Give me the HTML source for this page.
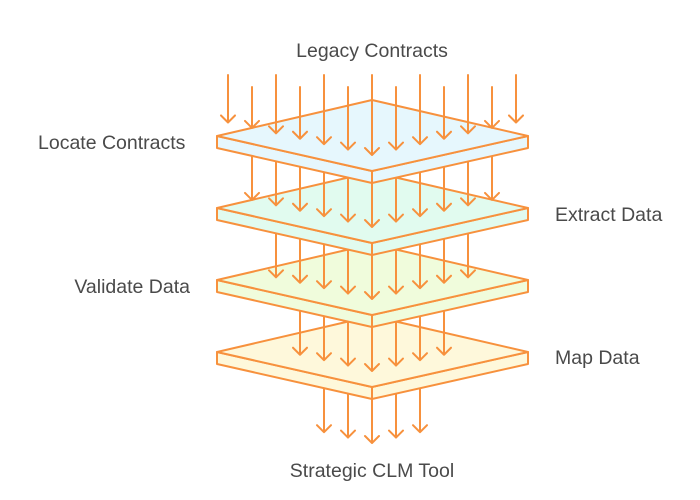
<!DOCTYPE html>
<html><head><meta charset="utf-8"><style>
html,body{margin:0;padding:0;background:#fff;width:700px;height:500px;overflow:hidden}
svg{display:block}
text{font-family:"Liberation Sans",sans-serif;font-size:19.5px;fill:#4a4a4a}
</style></head><body>
<svg id="s" width="700" height="500" viewBox="0 0 700 500" xmlns="http://www.w3.org/2000/svg">
<g id="g" fill="none" stroke="#f7913d" stroke-width="2" stroke-linecap="round" stroke-linejoin="round"></g>
<text x="372" y="57" text-anchor="middle">Legacy Contracts</text>
<text x="38" y="149">Locate Contracts</text>
<text x="555" y="221">Extract Data</text>
<text x="190" y="293" text-anchor="end">Validate Data</text>
<text x="555" y="364">Map Data</text>
<text x="372" y="477" text-anchor="middle">Strategic CLM Tool</text>
</svg>
<script>
var g=document.getElementById('g'),ns='http://www.w3.org/2000/svg';
var fills=['#e6f7fd','#e1fbef','#f0fcdc','#fef8db'];
var Y=[136,208,280,352,424];
function surf(x,y0){return y0+35*(1-Math.abs(x-372)/155);}
function el(t,a){var e=document.createElementNS(ns,t);for(var k in a)e.setAttribute(k,a[k]);g.appendChild(e);return e;}
function plate(i){var y=Y[i],f=fills[i];
 el('path',{d:'M217 '+y+' L372 '+(y+35)+' L372 '+(y+47)+' L217 '+(y+12)+'Z',fill:f});
 el('path',{d:'M528 '+y+' L372 '+(y+35)+' L372 '+(y+47)+' L528 '+(y+12)+'Z',fill:f});
 el('path',{d:'M217 '+y+' L372 '+(y-36)+' L528 '+y+' L372 '+(y+35)+'Z',fill:f});
}
function arrows(level){
 var n=13-2*level;var x0=372-12*(n-1);
 for(var j=0;j<n;j++){var x=x0+24*j;
  var ys=level==0?((j%2==0)?75:87):Y[level-1]+10;
  var yt=surf(x,Y[level])-16;
  el('path',{d:'M'+x+' '+ys+' L'+x+' '+yt+' M'+(x-7)+' '+(yt-7)+' L'+x+' '+yt+' L'+(x+7)+' '+(yt-7)});
 }}
arrows(4);
for(var i=3;i>=0;i--){plate(i);arrows(i);}
</script>
</body></html>
